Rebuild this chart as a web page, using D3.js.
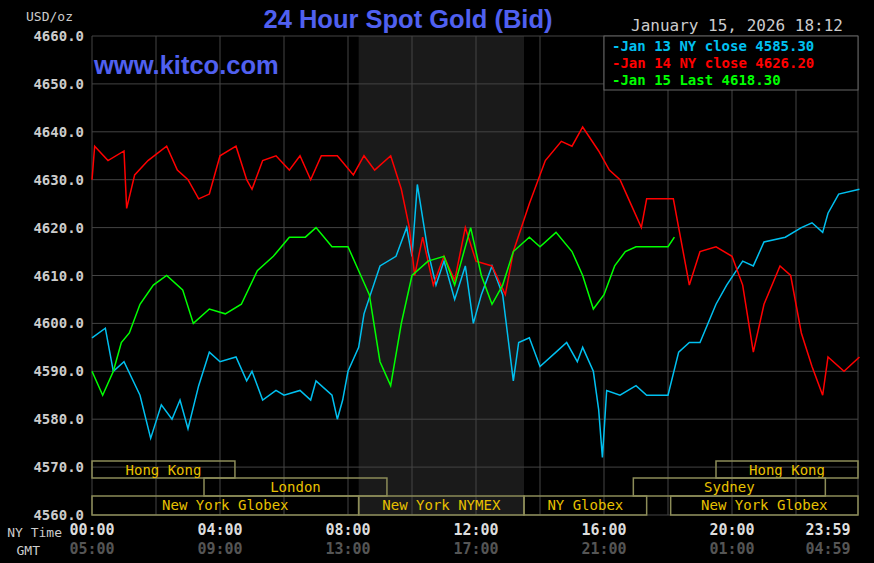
<!DOCTYPE html>
<html><head><meta charset="utf-8">
<script src="https://cdn.jsdelivr.net/npm/d3@7"></script>
<style>body{margin:0;background:#000}</style></head>
<body><svg id="c" width="874" height="563"></svg>
<script>
const blueT=["0:00","0:25","0:40","1:00","1:30","1:50","2:10","2:30","2:45","3:00","3:20","3:40","4:00","4:30","4:50","5:00","5:20","5:45","6:00","6:30","6:50","7:00","7:30","7:40","7:50","8:00","8:20","8:30","8:45","9:00","9:30","9:50","10:00","10:10","10:30","10:45","11:00","11:20","11:40","11:55","12:10","12:30","12:50","13:00","13:10","13:20","13:40","14:00","14:30","14:50","15:10","15:20","15:40","15:50","15:57","16:05","16:30","17:00","17:20","18:00","18:20","18:40","19:00","19:30","19:50","20:20","20:40","21:00","21:40","22:10","22:30","22:50","23:00","23:20","23:59"];
const blueV=[4597,4599,4590,4592,4585,4576,4583,4580,4584,4578,4587,4594,4592,4593,4588,4590,4584,4586,4585,4586,4584,4588,4585,4580,4584,4590,4595,4602,4607,4612,4614,4620,4614,4629,4615,4608,4613,4605,4612,4600,4606,4612,4606,4597,4588,4596,4597,4591,4594,4596,4592,4595,4590,4582,4572,4586,4585,4587,4585,4585,4594,4596,4596,4604,4608,4613,4612,4617,4618,4620,4621,4619,4623,4627,4628];
const redT=["0:00","0:05","0:30","1:00","1:05","1:20","1:45","2:20","2:40","3:00","3:20","3:40","4:00","4:30","4:50","5:00","5:20","5:45","6:10","6:30","6:50","7:10","7:40","8:10","8:30","8:50","9:20","9:40","9:55","10:05","10:20","10:40","11:00","11:20","11:40","12:00","12:30","12:55","13:10","13:40","14:10","14:40","15:00","15:20","15:50","16:10","16:30","16:50","17:10","17:20","18:10","18:20","18:40","19:00","19:30","20:00","20:20","20:40","21:00","21:30","21:50","22:10","22:30","22:50","23:00","23:30","23:59"];
const redV=[4630,4637,4634,4636,4624,4631,4634,4637,4632,4630,4626,4627,4635,4637,4630,4628,4634,4635,4632,4635,4630,4635,4635,4631,4635,4632,4635,4628,4620,4610,4618,4608,4614,4609,4620,4613,4612,4606,4615,4625,4634,4638,4637,4641,4636,4632,4630,4625,4620,4626,4626,4620,4608,4615,4616,4614,4608,4594,4604,4612,4610,4598,4591,4585,4593,4590,4593];
const greenT=["0:00","0:20","0:40","0:55","1:10","1:30","1:55","2:20","2:50","3:10","3:40","4:10","4:40","5:10","5:40","6:10","6:40","7:00","7:30","8:00","8:20","8:40","9:00","9:20","9:40","10:00","10:30","11:00","11:20","11:50","12:10","12:30","12:50","13:10","13:40","14:00","14:30","15:00","15:20","15:40","16:00","16:20","16:40","17:00","18:00","18:12"];
const greenV=[4590,4585,4590,4596,4598,4604,4608,4610,4607,4600,4603,4602,4604,4611,4614,4618,4618,4620,4616,4616,4611,4606,4592,4587,4600,4610,4613,4614,4608,4620,4610,4604,4608,4615,4618,4616,4619,4615,4610,4603,4606,4612,4615,4616,4616,4618];
const yTicks=[4560,4570,4580,4590,4600,4610,4620,4630,4640,4650,4660];
const nyTicks=["00:00","04:00","08:00","12:00","16:00","20:00","23:59"];
const gmtTicks=["05:00","09:00","13:00","17:00","21:00","01:00","04:59"];
const legend=[["Jan 13 NY close 4585.30","#00c0f0"],["Jan 14 NY close 4626.20","#ff0000"],["Jan 15 Last 4618.30","#00ff00"]];
const sessions=[["Hong Kong","0:00","4:28",0],["Hong Kong","19:30","23:59",0],["London","3:30","9:13",1],["Sydney","16:55","22:55",1],["New York Globex","0:00","8:20",2],["New York NYMEX","8:20","13:30",2],["NY Globex","13:30","17:20",2],["New York Globex","18:05","23:59",2]];

const toH=s=>{const[a,b]=s.split(":");return +a+ +b/60;};
const svg=d3.select("#c");
const x=d3.scaleLinear().domain([0,24]).range([92,860]);
const y=d3.scaleLinear().domain([4560,4660]).range([515,36]);
const mono="'DejaVu Sans Mono',monospace";
svg.append("rect").attr("width",874).attr("height",563).attr("fill","#000");
svg.append("rect").attr("x",x(toH("8:20"))).attr("y",36).attr("width",x(toH("13:30"))-x(toH("8:20"))).attr("height",479).attr("fill","#1a1a1a");
const g=svg.append("g");
yTicks.forEach(v=>{g.append("line").attr("x1",92).attr("x2",858).attr("y1",y(v)).attr("y2",y(v)).attr("stroke","#444");
 svg.append("text").attr("x",84).attr("y",y(v)+5).attr("text-anchor","end").attr("fill","#ccc").attr("font-family",mono).attr("font-size",14).attr("font-weight","bold").text(v.toFixed(1));});
for(let h=0;h<=24;h+=2){const xx=Math.min(x(h),858);g.append("line").attr("x1",xx).attr("x2",xx).attr("y1",36).attr("y2",515).attr("stroke","#444");}
svg.append("text").attr("x",26).attr("y",21).attr("fill","#ccc").attr("font-family",mono).attr("font-size",13).text("USD/oz");
svg.append("text").attr("x",408).attr("y",28).attr("text-anchor","middle").attr("fill","#5060f0").attr("font-family","'Liberation Sans',Arial").attr("font-size",25.5).attr("font-weight","bold").text("24 Hour Spot Gold (Bid)");
svg.append("text").attr("x",94).attr("y",74).attr("fill","#5060f0").attr("font-family","'Liberation Sans',Arial").attr("font-size",25.5).attr("font-weight","bold").text("www.kitco.com");
svg.append("text").attr("x",737).attr("y",31).attr("text-anchor","middle").attr("fill","#ccc").attr("font-family",mono).attr("font-size",16).text("January 15, 2026 18:12");
const rowY=[461,478,496],rowH=[17,18,19];
sessions.forEach(s=>{const x0=x(toH(s[1])),x1=Math.min(x(toH(s[2])),858),r=s[3];
 svg.append("rect").attr("x",x0).attr("y",rowY[r]).attr("width",x1-x0).attr("height",rowH[r]).attr("fill","none").attr("stroke","#8c8c58").attr("stroke-width",1.5);
 svg.append("text").attr("x",(x0+x1)/2).attr("y",rowY[r]+14).attr("text-anchor","middle").attr("fill","#e8c000").attr("font-family",mono).attr("font-size",14).text(s[0]);});
const line=d3.line().x(d=>x(d[0])).y(d=>y(d[1]));
[[blueT,blueV,"#00c0f0"],[redT,redV,"#ff0000"],[greenT,greenV,"#00ff00"]].forEach(([t,v,c])=>{
 svg.append("path").datum(t.map((s,i)=>[toH(s),v[i]])).attr("d",line).attr("fill","none").attr("stroke",c).attr("stroke-width",1.5);});
svg.append("rect").attr("x",604).attr("y",36).attr("width",254).attr("height",54).attr("fill","#000").attr("stroke","#666");
legend.forEach((l,i)=>{svg.append("text").attr("x",612).attr("y",51+i*17).attr("fill",l[1]).attr("font-family",mono).attr("font-size",14).attr("font-weight","bold").attr("xml:space","preserve").text("-"+l[0]);});
svg.append("text").attr("x",62).attr("y",537).attr("text-anchor","end").attr("fill","#ccc").attr("font-family",mono).attr("font-size",13).text("NY Time");
svg.append("text").attr("x",40).attr("y",555).attr("text-anchor","end").attr("fill","#ccc").attr("font-family",mono).attr("font-size",13).text("GMT");
nyTicks.forEach((t,i)=>{const px=i==6?828:x(i*4);
 svg.append("text").attr("x",px).attr("y",535).attr("text-anchor","middle").attr("fill","#ddd").attr("font-family",mono).attr("font-size",15).attr("font-weight","bold").text(t);
 svg.append("text").attr("x",px).attr("y",554).attr("text-anchor","middle").attr("fill","#555").attr("font-family",mono).attr("font-size",15).attr("font-weight","bold").text(gmtTicks[i]);});
</script></body></html>
